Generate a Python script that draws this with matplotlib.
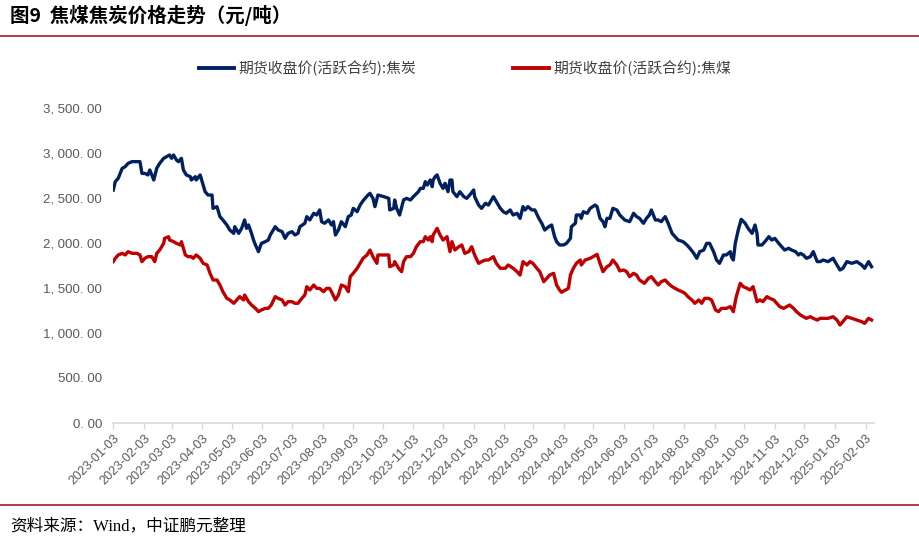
import matplotlib
matplotlib.use("Agg")
import matplotlib.pyplot as plt
from matplotlib.lines import Line2D
import pandas as pd

plt.rcParams['font.family'] = ['Noto Sans CJK SC', 'DejaVu Sans']

# ---------------- data ----------------
START = "2023-01-03"
# 焦炭 (coke): day offset from START, price
coke_days = [0, 2, 5, 9, 12, 15, 19, 27, 29, 32, 35, 37, 41, 44, 47, 51, 54, 57, 59, 61, 64, 66, 69, 71, 74, 78, 79, 83, 84, 88, 90, 93, 96, 100, 101, 105, 108, 111, 115, 118, 122, 123, 127, 130, 133, 135, 137, 140, 142, 144, 147, 150, 154, 157, 159, 164, 167, 171, 174, 177, 181, 184, 187, 189, 194, 196, 199, 203, 206, 209, 211, 214, 218, 221, 223, 225, 228, 231, 235, 238, 241, 243, 247, 250, 253, 258, 260, 263, 265, 268, 274, 279, 280, 284, 285, 287, 290, 294, 297, 301, 304, 309, 311, 314, 316, 318, 321, 323, 324, 326, 328, 331, 334, 336, 339, 341, 343, 344, 348, 351, 355, 358, 361, 365, 366, 370, 373, 377, 380, 383, 385, 388, 392, 395, 398, 402, 405, 409, 412, 415, 417, 420, 424, 427, 431, 434, 437, 441, 444, 447, 449, 452, 456, 459, 463, 464, 468, 469, 473, 474, 476, 480, 483, 488, 490, 493, 496, 498, 500, 503, 506, 510, 513, 518, 523, 527, 530, 533, 537, 540, 543, 545, 549, 552, 555, 559, 562, 566, 569, 572, 577, 581, 584, 588, 591, 594, 598, 601, 604, 608, 611, 614, 618, 621, 625, 626, 628, 630, 633, 636, 640, 643, 647, 650, 652, 653, 657, 660, 664, 667, 670, 674, 677, 680, 684, 687, 691, 694, 696, 699, 702, 706, 709, 713, 716, 719, 724, 729, 733, 736, 739, 743, 748, 753, 758, 761, 765, 768]
coke_price = [2589, 2681, 2719, 2830, 2848, 2885, 2904, 2904, 2774, 2774, 2756, 2811, 2700, 2830, 2885, 2941, 2959, 2978, 2941, 2978, 2922, 2904, 2941, 2811, 2756, 2737, 2700, 2737, 2700, 2756, 2681, 2570, 2533, 2533, 2385, 2404, 2293, 2256, 2200, 2144, 2107, 2181, 2107, 2163, 2256, 2163, 2200, 2107, 2033, 1978, 1904, 1996, 2015, 2033, 2089, 2181, 2144, 2126, 2052, 2107, 2126, 2089, 2107, 2181, 2219, 2293, 2256, 2330, 2311, 2367, 2237, 2219, 2256, 2200, 2237, 2089, 2144, 2237, 2181, 2293, 2311, 2385, 2348, 2422, 2470, 2533, 2552, 2496, 2404, 2533, 2515, 2496, 2367, 2385, 2478, 2385, 2311, 2478, 2496, 2478, 2515, 2570, 2607, 2607, 2681, 2644, 2700, 2626, 2700, 2737, 2756, 2663, 2607, 2663, 2570, 2700, 2700, 2570, 2515, 2570, 2515, 2496, 2533, 2589, 2515, 2422, 2385, 2441, 2422, 2478, 2515, 2459, 2385, 2348, 2330, 2367, 2311, 2330, 2274, 2404, 2367, 2404, 2367, 2367, 2274, 2219, 2144, 2181, 2200, 2070, 2015, 1978, 1978, 1996, 2052, 2181, 2219, 2311, 2311, 2274, 2348, 2330, 2385, 2422, 2404, 2274, 2237, 2181, 2274, 2274, 2385, 2367, 2311, 2256, 2237, 2330, 2293, 2274, 2219, 2274, 2311, 2367, 2256, 2256, 2237, 2293, 2219, 2107, 2070, 2033, 2015, 1978, 1941, 1885, 1830, 1904, 1922, 1996, 1996, 1904, 1811, 1774, 1867, 1867, 1904, 1848, 1811, 1996, 2144, 2263, 2219, 2163, 2107, 2200, 2107, 1978, 1978, 2015, 2070, 2033, 2052, 1996, 1959, 1922, 1941, 1922, 1904, 1867, 1885, 1867, 1830, 1848, 1904, 1793, 1793, 1811, 1793, 1830, 1756, 1700, 1719, 1793, 1774, 1793, 1756, 1719, 1793, 1737]

# 焦煤 (coking coal): day offset from START, price
coal_days = [0, 2, 5, 9, 12, 15, 19, 24, 27, 29, 32, 35, 39, 42, 44, 47, 51, 52, 56, 57, 61, 64, 68, 69, 73, 76, 79, 81, 84, 88, 91, 95, 98, 101, 105, 108, 111, 115, 118, 122, 125, 128, 132, 133, 137, 140, 144, 147, 150, 154, 157, 160, 164, 167, 171, 174, 177, 181, 184, 187, 191, 194, 196, 199, 203, 206, 209, 213, 216, 219, 221, 225, 228, 231, 235, 238, 240, 243, 247, 250, 253, 257, 260, 263, 267, 268, 274, 279, 280, 284, 285, 289, 292, 294, 297, 301, 304, 307, 311, 314, 316, 319, 321, 323, 324, 328, 331, 334, 338, 341, 343, 346, 350, 353, 356, 360, 363, 366, 370, 373, 377, 380, 385, 388, 392, 397, 400, 405, 409, 412, 415, 419, 422, 425, 429, 432, 436, 439, 442, 446, 449, 452, 454, 458, 461, 463, 466, 469, 473, 474, 478, 483, 486, 490, 493, 496, 500, 503, 506, 510, 513, 517, 520, 523, 527, 530, 533, 538, 542, 545, 549, 552, 555, 559, 562, 566, 569, 572, 576, 579, 582, 586, 589, 593, 596, 599, 603, 606, 610, 613, 616, 621, 625, 628, 631, 635, 638, 642, 645, 648, 652, 655, 658, 662, 665, 669, 672, 675, 679, 682, 685, 689, 692, 696, 699, 702, 706, 709, 713, 716, 721, 724, 729, 733, 736, 739, 743, 748, 753, 758, 761, 765, 768]
coal_price = [1793, 1830, 1867, 1885, 1867, 1904, 1885, 1885, 1867, 1793, 1830, 1848, 1848, 1793, 1885, 1922, 1996, 2052, 2070, 2033, 2015, 1996, 1978, 2015, 1867, 1848, 1848, 1830, 1867, 1830, 1774, 1756, 1663, 1589, 1589, 1533, 1459, 1385, 1367, 1330, 1367, 1404, 1367, 1422, 1348, 1311, 1274, 1237, 1256, 1274, 1274, 1311, 1404, 1385, 1367, 1311, 1348, 1348, 1330, 1330, 1385, 1422, 1515, 1478, 1533, 1496, 1496, 1459, 1496, 1496, 1459, 1367, 1422, 1533, 1515, 1459, 1626, 1663, 1719, 1774, 1830, 1867, 1922, 1848, 1774, 1867, 1867, 1867, 1737, 1756, 1793, 1719, 1681, 1793, 1848, 1848, 1885, 1959, 2015, 2015, 2070, 2033, 2070, 2015, 2089, 2163, 2089, 2033, 2070, 1904, 2015, 1922, 1959, 1978, 1885, 1904, 1959, 1867, 1774, 1793, 1811, 1811, 1848, 1774, 1719, 1719, 1756, 1719, 1681, 1644, 1793, 1756, 1793, 1774, 1719, 1681, 1570, 1607, 1644, 1663, 1533, 1478, 1452, 1478, 1496, 1644, 1719, 1774, 1811, 1756, 1811, 1830, 1848, 1874, 1774, 1681, 1737, 1756, 1811, 1756, 1690, 1700, 1681, 1626, 1663, 1644, 1589, 1552, 1607, 1626, 1570, 1533, 1570, 1589, 1552, 1515, 1496, 1478, 1459, 1441, 1404, 1367, 1330, 1367, 1330, 1385, 1385, 1367, 1256, 1237, 1274, 1274, 1293, 1237, 1404, 1552, 1515, 1496, 1478, 1515, 1348, 1367, 1348, 1404, 1385, 1367, 1330, 1293, 1274, 1293, 1311, 1274, 1237, 1200, 1181, 1163, 1181, 1163, 1144, 1163, 1163, 1163, 1181, 1144, 1089, 1126, 1181, 1163, 1144, 1126, 1107, 1163, 1144]

y_ticks = [0, 500, 1000, 1500, 2000, 2500, 3000, 3500]
y_tick_labels = ["0. 00", "500. 00", "1, 000. 00", "1, 500. 00", "2, 000. 00",
                 "2, 500. 00", "3, 000. 00", "3, 500. 00"]
x_tick_labels = ["2023-01-03", "2023-02-03", "2023-03-03", "2023-04-03", "2023-05-03",
                 "2023-06-03", "2023-07-03", "2023-08-03", "2023-09-03", "2023-10-03",
                 "2023-11-03", "2023-12-03", "2024-01-03", "2024-02-03", "2024-03-03",
                 "2024-04-03", "2024-05-03", "2024-06-03", "2024-07-03", "2024-08-03",
                 "2024-09-03", "2024-10-03", "2024-11-03", "2024-12-03", "2025-01-03",
                 "2025-02-03"]

series_names = ["期货收盘价(活跃合约):焦炭", "期货收盘价(活跃合约):焦煤"]
title_text = "图9  焦煤焦炭价格走势（元/吨）"
source_text = "资料来源：Wind，中证鹏元整理"

# ---------------- figure ----------------
W, H = 919, 544
fig = plt.figure(figsize=(W / 100, H / 100), dpi=100)
ax = fig.add_axes([113.3 / W, 1 - 423 / H, (874 - 113.3) / W, (423 - 108) / H])

start = pd.Timestamp(START)
coke_dates = start + pd.to_timedelta(coke_days, unit="D")
coal_dates = start + pd.to_timedelta(coal_days, unit="D")
x_tick_dates = pd.to_datetime(x_tick_labels)

BLUE = "#002060"
RED = "#C00000"
ax.plot(coke_dates, coke_price, color=BLUE, lw=2.4, solid_joinstyle="round")
ax.plot(coal_dates, coal_price, color=RED, lw=2.4, solid_joinstyle="round")

ax.set_ylim(0, 3500)
ax.set_xlim(start, start + pd.Timedelta(days=770.5))
ax.set_yticks(y_ticks)
ax.set_yticklabels(y_tick_labels, family=["Liberation Sans", "DejaVu Sans"], fontsize=9.5, color="#595959")
ax.set_xticks(x_tick_dates)
ax.set_xticklabels(x_tick_labels, rotation=45, ha="right", va="top", rotation_mode="anchor",
                   family=["Liberation Sans", "DejaVu Sans"], fontsize=9.2, color="#595959")
ax.tick_params(axis="y", length=0, pad=8)
ax.tick_params(axis="x", length=4, color="#d9d9d9", width=1, pad=3)
for s in ["top", "right", "left"]:
    ax.spines[s].set_visible(False)
ax.spines["bottom"].set_color("#d9d9d9")
ax.spines["bottom"].set_linewidth(1.2)

# legend
handles = [Line2D([], [], color=BLUE, lw=2.8), Line2D([], [], color=RED, lw=2.8)]
fig.legend(handles, series_names, loc="center", bbox_to_anchor=(465 / W, 1 - 68 / H), ncol=2,
           frameon=False, handlelength=2.4, handletextpad=0.3, columnspacing=6.5,
           prop={"size": 10.7}, labelcolor="#404040")

# title, rules, source
fig.text(10 / W, 1 - 15 / H, title_text, fontsize=14, fontweight="bold", va="center", ha="left", color="black")
RULE = "#A31D24"
fig.add_artist(Line2D([0, 1], [1 - 36 / H, 1 - 36 / H], transform=fig.transFigure, color=RULE, lw=1.2))
fig.add_artist(Line2D([0, 1], [1 - 505 / H, 1 - 505 / H], transform=fig.transFigure, color=RULE, lw=1.2))
fig.text(10 / W, 1 - 526 / H, source_text, fontsize=12, va="center", ha="left", color="black",
         family=["Liberation Serif", "Noto Sans CJK SC"])

fig.savefig("out.png", dpi=100)
